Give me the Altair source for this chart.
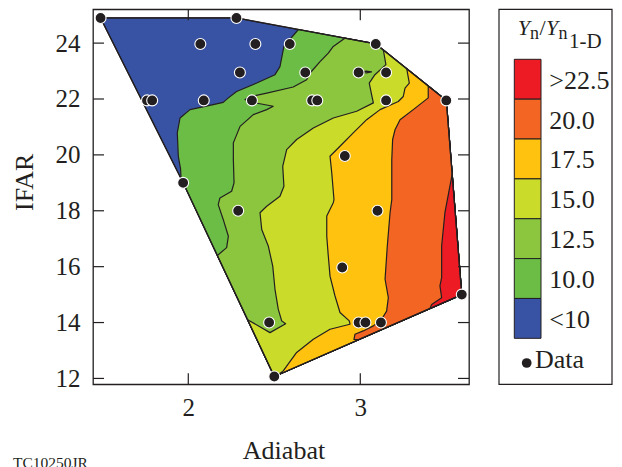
import altair as alt
import pandas as pd

# ---------------- data ----------------
# measured sample points (Adiabat, IFAR)
pt_x = [1.49, 2.28, 2.07, 2.39, 2.59, 3.09, 2.30, 2.68, 2.99, 3.15,
        1.76, 1.79, 2.09, 2.37, 2.72, 2.75, 3.15, 3.50, 2.91, 1.97,
        2.29, 3.10, 2.895, 3.59, 2.47, 2.99, 3.03, 3.12, 2.50]
pt_y = [24.9, 24.9, 23.97, 23.97, 23.97, 23.97, 22.95, 22.95, 22.95, 22.95,
        21.95, 21.95, 21.95, 21.95, 21.95, 21.95, 21.95, 21.95, 19.96, 19.0,
        18.0, 18.0, 15.97, 15.0, 14.0, 14.0, 14.0, 14.0, 12.07]

# convex hull of the sampled region (clockwise from top-left)
hull_x = [1.49, 2.28, 3.09, 3.50, 3.59, 2.50, 1.97]
hull_y = [24.9, 24.9, 23.97, 21.95, 15.0, 12.07, 19.0]

# contour lines (top end -> bottom end)
c10_x = [2.64, 2.556, 2.533, 2.504, 2.398, 2.281, 2.233, 2.203, 2.145, 2.010,
         1.952, 1.936, 1.942, 1.955, 1.958]
c10_y = [24.487, 23.88, 23.16, 22.87, 22.57, 22.27, 22.04, 21.88, 21.80, 21.62,
         21.32, 20.79, 19.95, 19.50, 19.15]

c125_x = [2.91, 2.843, 2.814, 2.766, 2.708, 2.688, 2.610, 2.456, 2.36, 2.33, 2.36,
          2.417, 2.494, 2.456, 2.378, 2.301, 2.262, 2.262, 2.266, 2.252, 2.184,
          2.174, 2.203, 2.233, 2.223, 2.169]
c125_y = [24.177, 23.88, 23.64, 23.34, 22.93, 22.69, 22.43, 22.21, 22.08, 21.98, 21.88,
          21.83, 21.74, 21.62, 21.44, 21.02, 20.43, 19.83, 19.00, 18.70, 18.46,
          18.22, 17.69, 17.09, 16.68, 16.40]

c15_x = [3.134, 3.149, 3.085, 3.052, 3.066, 3.076, 2.979, 2.843, 2.727, 2.630,
         2.572, 2.549, 2.556, 2.533, 2.456, 2.417, 2.427, 2.465, 2.491, 2.504,
         2.523, 2.543, 2.566, 2.475, 2.345]
c15_y = [23.753, 23.23, 22.87, 22.57, 22.15, 21.86, 21.56, 21.32, 20.96, 20.55,
         20.19, 19.59, 18.88, 18.52, 18.16, 17.93, 17.33, 16.74, 16.02, 15.19,
         14.48, 14.06, 13.96, 13.64, 14.10]

c175_x = [3.27, 3.285, 3.260, 3.250, 3.221, 3.115, 3.037, 2.959, 2.882, 2.824,
          2.834, 2.847, 2.843, 2.805, 2.805, 2.814, 2.824, 2.853, 2.882, 2.936,
          2.940, 2.824, 2.727, 2.630, 2.552, 2.52]
c175_y = [23.083, 22.57, 22.39, 22.09, 21.91, 21.62, 21.26, 20.79, 20.31, 19.95,
          19.36, 18.40, 18.29, 17.81, 17.09, 16.38, 15.66, 14.95, 14.36, 14.06,
          13.94, 13.76, 13.40, 12.93, 12.27, 12.124]

c20_x = [3.395, 3.395, 3.308, 3.231, 3.202, 3.188, 3.183, 3.183, 3.173, 3.157,
         3.144, 3.163, 3.153, 3.124, 3.076, 3.017, 2.969, 2.963, 2.988]
c20_y = [22.467, 22.04, 21.62, 21.26, 20.90, 20.55, 19.83, 18.40, 17.93, 16.74,
         15.55, 14.89, 14.41, 14.12, 13.88, 13.70, 13.58, 13.40, 13.382]

c225_x = [3.534, 3.492, 3.473, 3.473, 3.463, 3.473, 3.415, 3.405]
c225_y = [19.30, 17.93, 16.74, 15.61, 15.31, 14.89, 14.65, 14.503]

# small 15.0-17.5 island next to a data point
isl_x = [3.005, 3.035, 3.065, 3.035]
isl_y = [22.96, 22.995, 22.97, 22.935]

legend_labels = [">22.5", "20.0", "17.5", "15.0", "12.5", "10.0", "<10"]
legend_colors = ["#ED1C24", "#F26522", "#FFC20E", "#CBDB2A", "#8CC63F", "#6BBD45", "#3953A4"]

x_ticks = [2, 3]
y_ticks = [12, 14, 16, 18, 20, 22, 24]

# ---------------- chart ----------------
W, H = 376, 375
INK = "#231F20"
FONT = "'Liberation Serif', 'Times New Roman', Times, serif"

xscale = alt.Scale(domain=[1.446, 3.632], nice=False, zero=False)
yscale = alt.Scale(domain=[11.79, 25.21], nice=False, zero=False)

X = alt.X("x:Q", scale=xscale,
          axis=alt.Axis(values=x_ticks, format="d", ticks=False, domain=False, grid=False,
                        labelFont=FONT, labelFontSize=25, labelColor=INK, labelPadding=11,
                        title=None))
Y = alt.Y("y:Q", scale=yscale,
          axis=alt.Axis(values=y_ticks, format="d", ticks=False, domain=False, grid=False,
                        labelFont=FONT, labelFontSize=25, labelColor=INK, labelPadding=13,
                        title=None))


def polygon(xs, ys):
    xs = list(xs) + [xs[0]]
    ys = list(ys) + [ys[0]]
    return pd.DataFrame({"x": xs, "y": ys, "i": list(range(len(xs)))})


def region(level_x, level_y, hull_idx):
    xs = list(level_x) + [hull_x[k] for k in hull_idx]
    ys = list(level_y) + [hull_y[k] for k in hull_idx]
    return polygon(xs, ys)


def poly_layer(df, color, sw=1.2):
    return alt.Chart(df).mark_line(
        fill=color, stroke=INK, strokeWidth=sw, strokeJoin="round", interpolate="linear"
    ).encode(x=X, y=Y, order=alt.Order("i:Q"))


regions = [
    (polygon(hull_x, hull_y), legend_colors[6]),
    (region(c10_x, c10_y, [6, 5, 4, 3, 2]), legend_colors[5]),
    (region(c125_x, c125_y, [5, 4, 3, 2]), legend_colors[4]),
    (region(c15_x, c15_y, [5, 4, 3]), legend_colors[3]),
    (region(c175_x, c175_y, [4, 3]), legend_colors[2]),
    (region(c20_x, c20_y, [4, 3]), legend_colors[1]),
    (region(c225_x, c225_y, [4]), legend_colors[0]),
    (polygon(isl_x, isl_y), legend_colors[3]),
]
layers = [poly_layer(df, c) for df, c in regions]
# hull outline on top
layers.append(alt.Chart(polygon(hull_x, hull_y)).mark_line(
    stroke=INK, strokeWidth=1.3, strokeJoin="round").encode(x=X, y=Y, order=alt.Order("i:Q")))

# inward tick marks on all four sides
xt = pd.DataFrame({"x": x_ticks})
yt = pd.DataFrame({"y": y_ticks})
tick_style = dict(color=INK, strokeWidth=1.2)
layers += [
    alt.Chart(xt).mark_rule(**tick_style).encode(x=X, y=alt.value(H), y2=alt.value(H - 11)),
    alt.Chart(xt).mark_rule(**tick_style).encode(x=X, y=alt.value(0), y2=alt.value(11)),
    alt.Chart(yt).mark_rule(**tick_style).encode(y=Y, x=alt.value(0), x2=alt.value(11)),
    alt.Chart(yt).mark_rule(**tick_style).encode(y=Y, x=alt.value(W), x2=alt.value(W - 11)),
]

# data points
pts = pd.DataFrame({"x": pt_x, "y": pt_y})
layers.append(alt.Chart(pts).mark_point(
    shape="circle", filled=True, size=120, fill=INK, stroke="white", strokeWidth=1.1, opacity=1
).encode(x=X, y=Y))

# axis titles and figure tag
def text_layer(txt, x, y, size, **kw):
    return alt.Chart(pd.DataFrame({"t": [txt]})).mark_text(
        font=FONT, fontSize=size, color=INK, **kw
    ).encode(text="t:N", x=alt.value(x), y=alt.value(y))

layers += [
    text_layer("Adiabat", 191, 450, 26, align="center", baseline="alphabetic"),
    text_layer("IFAR", -68, 173, 26, align="center", baseline="middle", angle=270),
    text_layer("TC10250JR", -80, 459, 15.5, align="left", baseline="alphabetic"),
]

# legend
leg = pd.DataFrame({"label": legend_labels, "color": legend_colors, "k": list(range(7))})
leg_base = alt.Chart(leg).transform_calculate(
    y0="50 + datum.k * 39.86", y1="50 + (datum.k + 1) * 39.86", ym="51.5 + (datum.k + 0.5) * 39.86"
)
layers += [
    alt.Chart(pd.DataFrame({"a": [0]})).mark_rect(fill=None, stroke=INK, strokeWidth=1.2).encode(
        x=alt.value(406), x2=alt.value(519), y=alt.value(0), y2=alt.value(H)),
    leg_base.mark_rect(stroke=INK, strokeWidth=1).encode(
        x=alt.value(421.3), x2=alt.value(448),
        y=alt.Y("y0:Q", scale=None), y2="y1:Q",
        fill=alt.Color("color:N", scale=None)),
    leg_base.mark_text(font=FONT, fontSize=26, color=INK, align="left", baseline="middle").encode(
        x=alt.value(456.3), y=alt.Y("ym:Q", scale=None), text="label:N"),
    alt.Chart(pd.DataFrame({"a": [0]})).mark_point(
        shape="circle", filled=True, size=95, fill=INK, opacity=1).encode(
        x=alt.value(433.7), y=alt.value(353.7)),
    text_layer("Data", 442, 358.7, 26, align="left", baseline="alphabetic"),
    text_layer("Y", 424.7, 25.7, 22, align="left", baseline="alphabetic", fontStyle="italic"),
    text_layer("n", 437, 30, 18, align="left", baseline="alphabetic"),
    text_layer("/", 446.5, 25.7, 22, align="left", baseline="alphabetic"),
    text_layer("Y", 453, 25.7, 22, align="left", baseline="alphabetic", fontStyle="italic"),
    text_layer("n", 465.5, 30, 18, align="left", baseline="alphabetic"),
    text_layer("1-D", 476, 39, 21, align="left", baseline="alphabetic"),
]

chart = alt.layer(*layers).properties(
    width=W, height=H,
    autosize=alt.AutoSizeParams(type="none"),
    padding={"left": 93, "top": 9.3, "right": 153, "bottom": 82.7},
    background="white",
).configure_view(stroke=INK, strokeWidth=1.3)

chart.save("out.html", embed_options={"renderer": "svg", "actions": False})
